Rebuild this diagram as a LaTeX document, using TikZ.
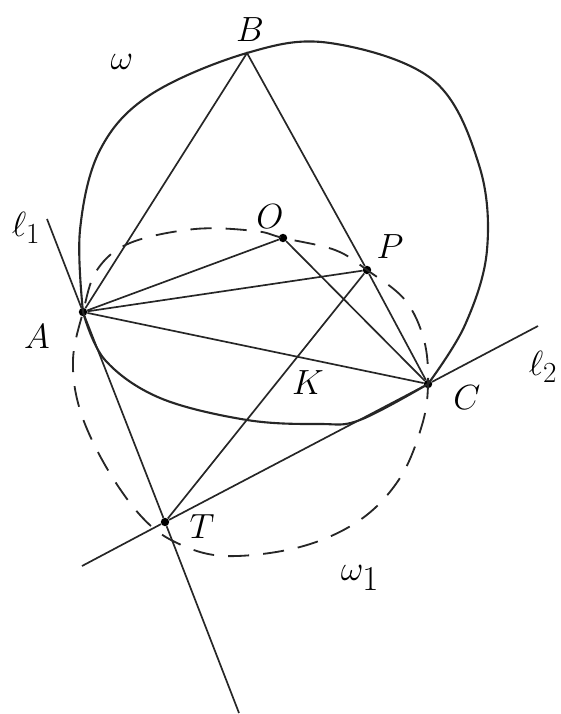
\documentclass[tikz,border=0pt]{standalone}
\usepackage{amsmath}
\usetikzlibrary{positioning, calc}
\tikzset{
  geoLine/.style={line width=1.2pt, black!85},
  omegaArc/.style={line width=1.5pt, black!85},
  omegaAux/.style={line width=1.3pt, black!85, dash pattern=on 15pt off 10pt},
  ptDot/.style={circle, fill=black, inner sep=0pt, minimum size=6pt},
  lblText/.style={font=\fontsize{28}{32}\selectfont, inner sep=0pt},
  lblBig/.style={font=\fontsize{34}{38}\selectfont, inner sep=0pt},
}

\begin{document}
\begin{tikzpicture}[x=0.025cm, y=-0.025cm]
\useasboundingbox (0,0) rectangle (560,714);

% points
\coordinate (B) at (247,53);
\node (A) [ptDot] at (83,312) {};
\node (O) [ptDot] at (283,238) {};
\node (P) [ptDot] at (367,270) {};
\node (C) [ptDot] at (428,384) {};
\node (T) [ptDot] at (165,522) {};
\coordinate (l1s) at (47,219);
\coordinate (l1e) at (239,713);
\coordinate (l2s) at (82,566);
\coordinate (l2e) at (538,326);

% circle omega (hand drawn)
\draw [omegaArc] plot[smooth, tension=0.6] coordinates {(A.center) (80,230) (100,150)
  (150,95) (B) (330,43) (433,80) (479,165) (487,250) (465,325) (C.center)};
\draw [omegaArc] plot[smooth, tension=0.6] coordinates {(A.center) (105,360) (160,398)
  (247,420) (320,424) (360,420) (C.center)};

% circle omega_1
\draw [omegaAux] plot[smooth cycle, tension=0.6] coordinates {(A.center) (97,270)
  (130,243) (195,229) (255,231) (O.center) (335,250) (P.center) (405,300) (424,340)
  (C.center) (422,425) (400,478) (360,520) (300,547) (225,556) (175,542) (140,515)
  (105,465) (80,410) (73,360)};

% lines
\draw [geoLine] (l1s) -- (A) -- (T) -- (l1e);
\draw [geoLine] (l2s) -- (T) -- (C) -- (l2e);
\draw [geoLine] (A) -- (B) -- (P) -- (C);
\draw [geoLine] (A) -- (O) -- (C);
\draw [geoLine] (A) -- (P);
\draw [geoLine] (A) -- (C);
\draw [geoLine] (T) -- (P);

% labels
\node (labB) [lblText] at (250,30) {$B$};
\node (labW) [lblBig] at (122,62) {$\omega$};
\node (labL1) [lblText] at (26,228) {$\ell_1$};
\node (labA) [lblText] at (37,337) {$A$};
\node (labO) [lblText] at (270,217) {$O$};
\node (labP) [lblText] at (390,247) {$P$};
\node (labC) [lblText] at (467,398) {$C$};
\node (labL2) [lblText] at (543,367) {$\ell_2$};
\node (labK) [lblText] at (308,383) {$K$};
\node (labT) [lblText] at (202,527) {$T$};
\node (labW1) [lblBig] at (360,578) {$\omega_1$};
\end{tikzpicture}
\end{document}
